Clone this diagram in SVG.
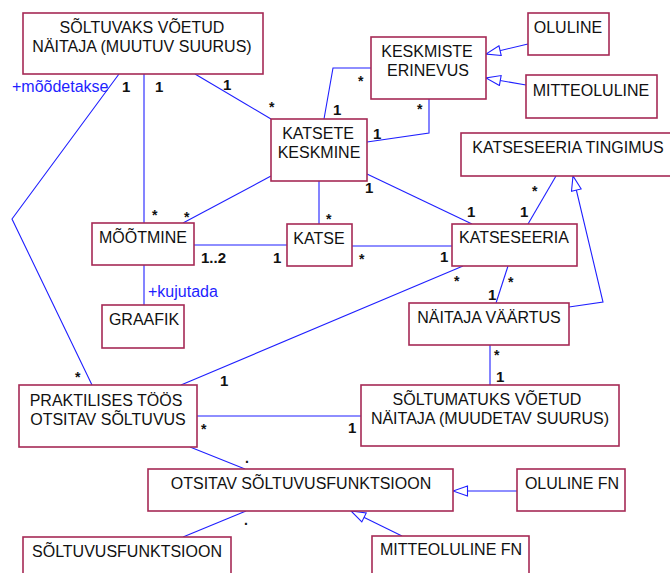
<svg xmlns="http://www.w3.org/2000/svg" width="670" height="573" viewBox="0 0 670 573">
  <style>
    .box rect { fill: #ffffff; stroke: #a62a55; stroke-width: 1.6; }
    .box text { font-family: "Liberation Sans", Arial, sans-serif; font-size: 16px; fill: #111111; text-anchor: middle; }
    .conn { fill: none; stroke: #1f1fff; stroke-width: 1.1; }
    .mult { font-family: "Liberation Sans", Arial, sans-serif; font-size: 15px; font-weight: bold; fill: #111111; }
    .star { font-family: "Liberation Sans", Arial, sans-serif; font-size: 14px; font-weight: bold; fill: #111111; }
    .role { font-family: "Liberation Sans", Arial, sans-serif; font-size: 16px; fill: #1f1fff; }
  </style>
  <defs>
    <marker id="gen" viewBox="0 0 16 12" refX="15.5" refY="6" markerWidth="16" markerHeight="12" markerUnits="userSpaceOnUse" orient="auto">
      <path d="M1,1 L15.5,6 L1,11 Z" fill="#ffffff" stroke="#1f1fff" stroke-width="1.1"/>
    </marker>
  </defs>

  <rect width="670" height="573" fill="#ffffff"/>

  <!-- associations and generalizations -->
  <g id="connectors">
    <polyline class="conn" points="195,74 271,119"/>
    <polyline class="conn" points="144,74 144,223"/>
    <polyline class="conn" points="119,74 12,219 92,385"/>
    <polyline class="conn" points="371,68 333,68 324,119"/>
    <polyline class="conn" points="429,99 429,133 367,142"/>
    <polyline class="conn" points="271,176 183,223"/>
    <polyline class="conn" points="319,181 319,224"/>
    <polyline class="conn" points="367,174 472,224"/>
    <polyline class="conn" points="194,245 287,245"/>
    <polyline class="conn" points="352,246 452,246"/>
    <polyline class="conn" points="528,224 556,176"/>
    <polyline class="conn" points="508,266 496,303"/>
    <polyline class="conn" points="463,266 181,385"/>
    <polyline class="conn" points="144,265 144,305"/>
    <polyline class="conn" points="490,345 490,385"/>
    <polyline class="conn" points="197,416 361,416"/>
    <polyline class="conn" points="190,447 245,469"/>
    <polyline class="conn" points="246,511 183,537"/>

    <polyline class="conn" points="528,44 486,54" marker-end="url(#gen)"/>
    <polyline class="conn" points="526,85 486,78" marker-end="url(#gen)"/>
    <polyline class="conn" points="569,307 603,302 573,176" marker-end="url(#gen)"/>
    <polyline class="conn" points="517,491 453,491" marker-end="url(#gen)"/>
    <polyline class="conn" points="402,536 351,511" marker-end="url(#gen)"/>

    <!-- role names -->
    <text class="role" x="12" y="92">+mõõdetakse</text>
    <text class="role" x="148" y="297">+kujutada</text>

    <!-- multiplicities -->
    <text class="mult" x="223" y="90">1</text>
    <text class="mult" x="155" y="92">1</text>
    <text class="mult" x="122" y="92">1</text>
    <text class="star" x="269" y="112">*</text>
    <text class="star" x="358" y="86">*</text>
    <text class="mult" x="333" y="115">1</text>
    <text class="star" x="417" y="114">*</text>
    <text class="mult" x="373" y="139">1</text>
    <text class="mult" x="365" y="193">1</text>
    <text class="mult" x="467" y="217">1</text>
    <text class="mult" x="520" y="217">1</text>
    <text class="star" x="532" y="196">*</text>
    <text class="star" x="326" y="224">*</text>
    <text class="star" x="152" y="220">*</text>
    <text class="star" x="184" y="222">*</text>
    <text class="mult" x="201" y="263">1..2</text>
    <text class="mult" x="273" y="263">1</text>
    <text class="star" x="359" y="264">*</text>
    <text class="mult" x="440" y="262">1</text>
    <text class="star" x="454" y="286">*</text>
    <text class="star" x="508" y="287">*</text>
    <text class="mult" x="488" y="300">1</text>
    <text class="star" x="494" y="360">*</text>
    <text class="mult" x="496" y="382">1</text>
    <text class="mult" x="220" y="386">1</text>
    <text class="star" x="75" y="382">*</text>
    <text class="star" x="201" y="434">*</text>
    <text class="mult" x="348" y="433">1</text>
    <text class="star" x="245" y="463">.</text>
    <text class="star" x="244" y="525">.</text>
  </g>

  <g id="soltuvaks" class="box">
    <rect x="23" y="13" width="240" height="61"/>
    <text x="142" y="33">SÕLTUVAKS VÕETUD</text>
    <text x="142" y="52">NÄITAJA (MUUTUV SUURUS)</text>
  </g>
  <g id="keskmiste-erinevus" class="box">
    <rect x="371" y="37" width="115" height="62"/>
    <text x="427" y="57">KESKMISTE</text>
    <text x="428" y="76">ERINEVUS</text>
  </g>
  <g id="oluline" class="box">
    <rect x="528" y="13" width="81" height="42"/>
    <text x="568" y="33">OLULINE</text>
  </g>
  <g id="mitteoluline" class="box">
    <rect x="526" y="75" width="131" height="43"/>
    <text x="591" y="96">MITTEOLULINE</text>
  </g>
  <g id="katsete-keskmine" class="box">
    <rect x="271" y="119" width="96" height="62"/>
    <text x="318" y="139">KATSETE</text>
    <text x="319" y="158">KESKMINE</text>
  </g>
  <g id="katseseeria-tingimus" class="box">
    <rect x="461" y="133" width="215" height="43"/>
    <text x="568" y="153">KATSESEERIA TINGIMUS</text>
  </g>
  <g id="mootmine" class="box">
    <rect x="92" y="223" width="102" height="42"/>
    <text x="143" y="243">MÕÕTMINE</text>
  </g>
  <g id="katse" class="box">
    <rect x="287" y="224" width="65" height="42"/>
    <text x="319" y="244">KATSE</text>
  </g>
  <g id="katseseeria" class="box">
    <rect x="452" y="224" width="125" height="42"/>
    <text x="514" y="243">KATSESEERIA</text>
  </g>
  <g id="naitaja-vaartus" class="box">
    <rect x="409" y="303" width="160" height="42"/>
    <text x="489" y="323">NÄITAJA VÄÄRTUS</text>
  </g>
  <g id="graafik" class="box">
    <rect x="102" y="305" width="82" height="43"/>
    <text x="144" y="325">GRAAFIK</text>
  </g>
  <g id="praktilises" class="box">
    <rect x="19" y="385" width="178" height="62"/>
    <text x="106" y="406">PRAKTILISES TÖÖS</text>
    <text x="108" y="425">OTSITAV SÕLTUVUS</text>
  </g>
  <g id="soltumatuks" class="box">
    <rect x="361" y="385" width="258" height="61"/>
    <text x="487" y="405">SÕLTUMATUKS VÕETUD</text>
    <text x="490" y="424">NÄITAJA (MUUDETAV SUURUS)</text>
  </g>
  <g id="otsitav-fn" class="box">
    <rect x="148" y="469" width="305" height="42"/>
    <text x="301" y="489">OTSITAV SÕLTUVUSFUNKTSIOON</text>
  </g>
  <g id="oluline-fn" class="box">
    <rect x="517" y="469" width="108" height="42"/>
    <text x="572" y="489">OLULINE FN</text>
  </g>
  <g id="soltuvusfunktsioon" class="box">
    <rect x="23" y="537" width="208" height="42"/>
    <text x="127" y="557">SÕLTUVUSFUNKTSIOON</text>
  </g>
  <g id="mitteoluline-fn" class="box">
    <rect x="372" y="536" width="157" height="42"/>
    <text x="451" y="555">MITTEOLULINE FN</text>
  </g>
</svg>
